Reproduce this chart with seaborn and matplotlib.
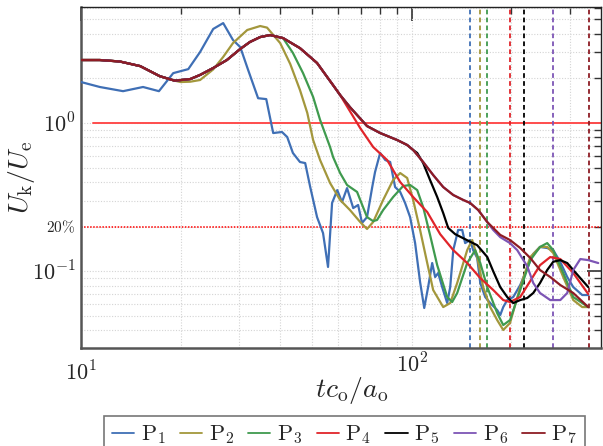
import numpy as np
import pandas as pd
import matplotlib
matplotlib.use("Agg")
import matplotlib.pyplot as plt
import matplotlib.transforms as mtransforms
from matplotlib.ticker import LogLocator, NullFormatter, FixedLocator
from matplotlib.lines import Line2D
import seaborn as sns

# ---------------- data ----------------
labels = [r"$\mathrm{P}_{1}$", r"$\mathrm{P}_{2}$", r"$\mathrm{P}_{3}$", r"$\mathrm{P}_{4}$",
          r"$\mathrm{P}_{5}$", r"$\mathrm{P}_{6}$", r"$\mathrm{P}_{7}$"]
colors = ["#3f6fb5", "#a3973c", "#3f9a4e", "#e0242a", "#000000", "#7d55b5", "#8e1c24"]

# time at which each probe reaches its threshold (vertical dashed lines)
t_mark = [150, 161, 169, 198, 219, 267, 342]

base_t = [10, 11.4, 13.1, 15.1, 17.3, 19.2, 21.4, 22.9, 25.1, 27.6, 30.3, 32.4, 34.8,
          37.3, 40.8, 45.9, 51.7, 57.8, 60.7]
base_u = [2.66, 2.66, 2.60, 2.42, 2.07, 1.93, 1.98, 2.11, 2.35, 2.66, 3.16, 3.52, 3.80,
          3.92, 3.74, 3.20, 2.54, 1.80, 1.545]

p1_t = [10.0, 11.4, 13.4, 15.4, 17.2, 19.0, 21.1, 22.9, 25.1, 26.9, 28.8, 30.3, 32.0, 34.3,
        36.3, 38.1, 40.5, 42.0, 43.7, 45.9, 47.6, 49.3, 51.7, 53.9, 55.8, 57.4, 59.5, 61.5,
        63.7, 66.5, 68.8, 70.7, 73.2, 75.9, 77.4, 80.2, 83.1, 86.0, 89.0, 92.2, 95.4, 98.8,
        102.3, 105.9, 109.0, 112.0, 115.2, 117.6, 120.1, 123.5, 127.9, 130.6, 133.4, 138.0,
        142.0, 144.9, 150, 153.2, 157.6, 161, 166.6, 172.5, 181.1, 185, 188.9, 194.2, 202.5,
        212.6, 223.3, 232.8, 244, 256.5, 267.5, 281, 294.9, 307.5, 327.3, 341.3]
p1_u = [1.89, 1.75, 1.64, 1.75, 1.64, 2.17, 2.31, 3.01, 4.31, 4.72, 3.63, 3.25, 2.28, 1.47,
        1.45, 0.856, 0.870, 0.805, 0.628, 0.546, 0.537, 0.370, 0.232, 0.181, 0.107, 0.289,
        0.353, 0.293, 0.364, 0.267, 0.280, 0.212, 0.232, 0.370, 0.467, 0.628, 0.563, 0.546,
        0.370, 0.343, 0.289, 0.232, 0.155, 0.0847, 0.0566, 0.0783, 0.1137, 0.0915, 0.0974,
        0.0783, 0.0611, 0.0783, 0.139, 0.190, 0.190, 0.155, 0.1626, 0.139, 0.123, 0.0834,
        0.0671, 0.0611, 0.0548, 0.0507, 0.0574, 0.064, 0.0671, 0.0808, 0.105, 0.131, 0.146,
        0.1436, 0.139, 0.1155, 0.0915, 0.0783, 0.0692, 0.0692]

p2_t = [10, 11.4, 13.1, 15.1, 17.3, 19.2, 20.0, 21.4, 22.9, 25.1, 26.9, 28.8, 31.8, 34.8,
        36.5, 40.0, 42.9, 45.9, 48.3, 50.3, 52.8, 56.6, 60.7, 65.0, 69.8, 73.2, 76.4, 81.9,
        87.8, 92.2, 96.8, 100.9, 105.9, 111.3, 116.0, 124.4, 130.6, 137.1, 147.0, 152.2,
        157.6, 164.3, 172.5, 181.1, 188.9, 198, 212.6, 228, 244, 256.5, 267.5, 286.8, 307.5,
        327.3, 341.3]
p2_u = [2.66, 2.66, 2.60, 2.42, 2.07, 1.93, 1.89, 1.90, 1.95, 2.30, 2.79, 3.46, 4.24, 4.51,
        4.40, 3.46, 2.50, 1.67, 1.17, 0.768, 0.563, 0.394, 0.303, 0.259, 0.215, 0.193, 0.215,
        0.303, 0.413, 0.460, 0.426, 0.303, 0.190, 0.1137, 0.0748, 0.0574, 0.0611, 0.0834,
        0.139, 0.1626, 0.1248, 0.0783, 0.0574, 0.0469, 0.0402, 0.0448, 0.0783, 0.1248, 0.146,
        0.146, 0.1329, 0.0915, 0.064, 0.0574, 0.0574]

p3_t = base_t[:15] + [43.7, 46.9, 50.3, 52.8, 56.6, 57.8, 60.7, 63.7, 68.3, 71.2, 73.2, 76.4,
                      78.5, 81.9, 87.8, 94.1, 98.8, 103.8, 108.2, 113.5, 119.3, 127.9, 132.4,
                      137.1, 147.0, 155.4, 161, 169.0, 181.1, 188.9, 198, 212.6, 228, 244,
                      256.5, 267.5, 286.8, 307.5, 327.3, 341.3]
p3_u = base_u[:15] + [2.97, 2.17, 1.50, 1.05, 0.689, 0.590, 0.460, 0.382, 0.343, 0.271, 0.232,
                      0.218, 0.222, 0.259, 0.317, 0.376, 0.382, 0.353, 0.271, 0.176, 0.110,
                      0.0671, 0.0621, 0.0714, 0.1137, 0.139, 0.1137, 0.0783, 0.0523, 0.0434,
                      0.0469, 0.0748, 0.119, 0.146, 0.155, 0.139, 0.0974, 0.0671, 0.0611,
                      0.0574]

p4_t = base_t + [69.8, 76.4, 84.2, 92.2, 100.9, 111.3, 121.8, 133.4, 147.0, 161, 176.2, 188.9,
                 198, 212.6, 228, 244, 262, 281, 307.5, 341.3]
p4_u = base_u + [0.925, 0.689, 0.563, 0.400, 0.317, 0.251, 0.178, 0.139, 0.1137, 0.090,
                 0.0748, 0.064, 0.0621, 0.0671, 0.086, 0.110, 0.1248, 0.121, 0.0974, 0.0703]

p7_t = base_t + [65.0, 73.2, 80.2, 90.3, 96.8, 100.9, 108.2, 116.0, 124.4, 133.4, 142.9, 150,
                 158.7, 169.0, 185, 198, 212.6, 228, 244, 262, 281, 307.5, 341.3]
p7_u = base_u + [1.28, 0.954, 0.856, 0.768, 0.711, 0.658, 0.546, 0.446, 0.370, 0.327, 0.303,
                 0.289, 0.259, 0.215, 0.176, 0.1626, 0.1436, 0.123, 0.102, 0.0915, 0.0808,
                 0.0714, 0.0574]

p5_t = p7_t[:25] + [103.8, 108.2, 113.5, 119.3, 124.4, 128.8, 135.2, 147.0, 157.6, 169.0, 176.2,
                    185, 194.2, 202.5, 212.6, 223.3, 232.8, 244, 256.5, 267.5, 281, 294.9,
                    307.5, 323, 341.3]
p5_u = p7_u[:25] + [0.628, 0.537, 0.413, 0.317, 0.247, 0.196, 0.178, 0.162, 0.150, 0.125,
                    0.100, 0.0783, 0.0671, 0.0611, 0.064, 0.0661, 0.0714, 0.0834, 0.102,
                    0.116, 0.119, 0.1137, 0.102, 0.090, 0.0783]

p6_t = p7_t[:33] + [176.2, 185, 198, 208.2, 223.3, 232.8, 244, 262, 281, 294.9, 307.5, 323,
                    341.3, 365.9]
p6_u = p7_u[:33] + [0.190, 0.170, 0.155, 0.139, 0.108, 0.0834, 0.0714, 0.064, 0.064, 0.0714,
                    0.102, 0.121, 0.119, 0.1137]

series_t = [p1_t, p2_t, p3_t, p4_t, p5_t, p6_t, p7_t]
series_u = [p1_u, p2_u, p3_u, p4_u, p5_u, p6_u, p7_u]

ref_unity = 1.0
ref_20 = 0.2

# ---------------- figure ----------------
sns.set_theme(style="white")
plt.rcParams["font.family"] = ["DejaVu Serif"]
plt.rcParams["mathtext.fontset"] = "cm"

frames = []
for lab, t, u in zip(labels, series_t, series_u):
    frames.append(pd.DataFrame({"t": t, "u": u, "probe": lab}))
df = pd.concat(frames, ignore_index=True)

fig = plt.figure(figsize=(6.03, 4.46), dpi=100)
ax = fig.add_axes([81 / 603, (446 - 348) / 446, (601 - 81) / 603, (348 - 7) / 446])
ax.set_xscale("log")
ax.set_yscale("log")

sns.lineplot(data=df, x="t", y="u", hue="probe", hue_order=labels,
             palette=dict(zip(labels, colors)), estimator=None, sort=False,
             linewidth=1.6, legend=False, ax=ax, zorder=3)

for tm, c in zip(t_mark, colors):
    ax.axvline(tm, color=c, ls=(0, (2.6, 1.8)), lw=1.3, zorder=2)

ax.plot([10.9, 400], [ref_unity, ref_unity], color="#ff4d4d", lw=1.4, zorder=1)
ax.axhline(ref_20, color="#ff0000", ls=(0, (1, 1)), lw=1.1, zorder=1)

ax.set_xlim(10, 373)
ax.set_ylim(0.0304, 6.06)

ax.grid(True, which="both", color="#d4d4d4", ls=(0, (1, 1.5)), lw=0.8)
ax.set_axisbelow(True)

ax.xaxis.set_major_locator(FixedLocator([10, 100]))
ax.xaxis.set_minor_locator(LogLocator(base=10, subs=np.arange(2, 10)))
ax.xaxis.set_major_formatter(NullFormatter())
ax.xaxis.set_minor_formatter(NullFormatter())

ax.yaxis.set_major_locator(FixedLocator([0.1, 1.0]))
ax.yaxis.set_minor_locator(LogLocator(base=10, subs=np.arange(2, 10)))
ax.set_yticks([0.1, 1.0])
ax.set_yticklabels([r"$10^{-1}$", r"$10^{0}$"], fontsize=16)
ax.yaxis.set_minor_formatter(NullFormatter())

ax.tick_params(which="both", direction="in", top=True, right=True, color="#333333")
ax.tick_params(which="major", length=10, width=1.2, pad=4)
ax.tick_params(which="minor", length=5, width=1.0)

for side in ["top", "right"]:
    ax.spines[side].set_color("#222222")
    ax.spines[side].set_linewidth(1.0)
for side in ["left", "bottom"]:
    ax.spines[side].set_color("#555555")
    ax.spines[side].set_linewidth(1.8)

# x tick labels drawn as text (reference places them at slightly different heights)
bt = mtransforms.blended_transform_factory(ax.transData, ax.transAxes)
ax.text(10, -0.075, r"$10^{1}$", transform=bt, ha="center", va="center", fontsize=16)
ax.text(100, -0.05, r"$10^{2}$", transform=bt, ha="center", va="center", fontsize=16)

# 20% label
bty = mtransforms.blended_transform_factory(ax.transAxes, ax.transData)
ax.text(-0.012, ref_20, r"$20\%$", transform=bty, ha="right", va="center", fontsize=11)

ax.set_xlabel(r"$tc_{\mathrm{o}}/a_{\mathrm{o}}$", fontsize=20)
ax.xaxis.set_label_coords(0.52, -0.08)
ax.set_ylabel(r"$U_{\mathrm{k}}/U_{\mathrm{e}}$", fontsize=20)
ax.yaxis.set_label_coords(-0.085, 0.5)

handles = [Line2D([], [], color=c, lw=1.3) for c in colors]
leg = fig.legend(handles, labels, loc="upper center", bbox_to_anchor=(0.571, 0.068),
                 ncol=7, fontsize=16, frameon=True, fancybox=False, edgecolor="#555555",
                 handlelength=1.0, handletextpad=0.3, columnspacing=0.65, borderpad=0.35,
                 borderaxespad=0.0)
leg.get_frame().set_linewidth(1.2)

fig.savefig("out.png", dpi=100)
